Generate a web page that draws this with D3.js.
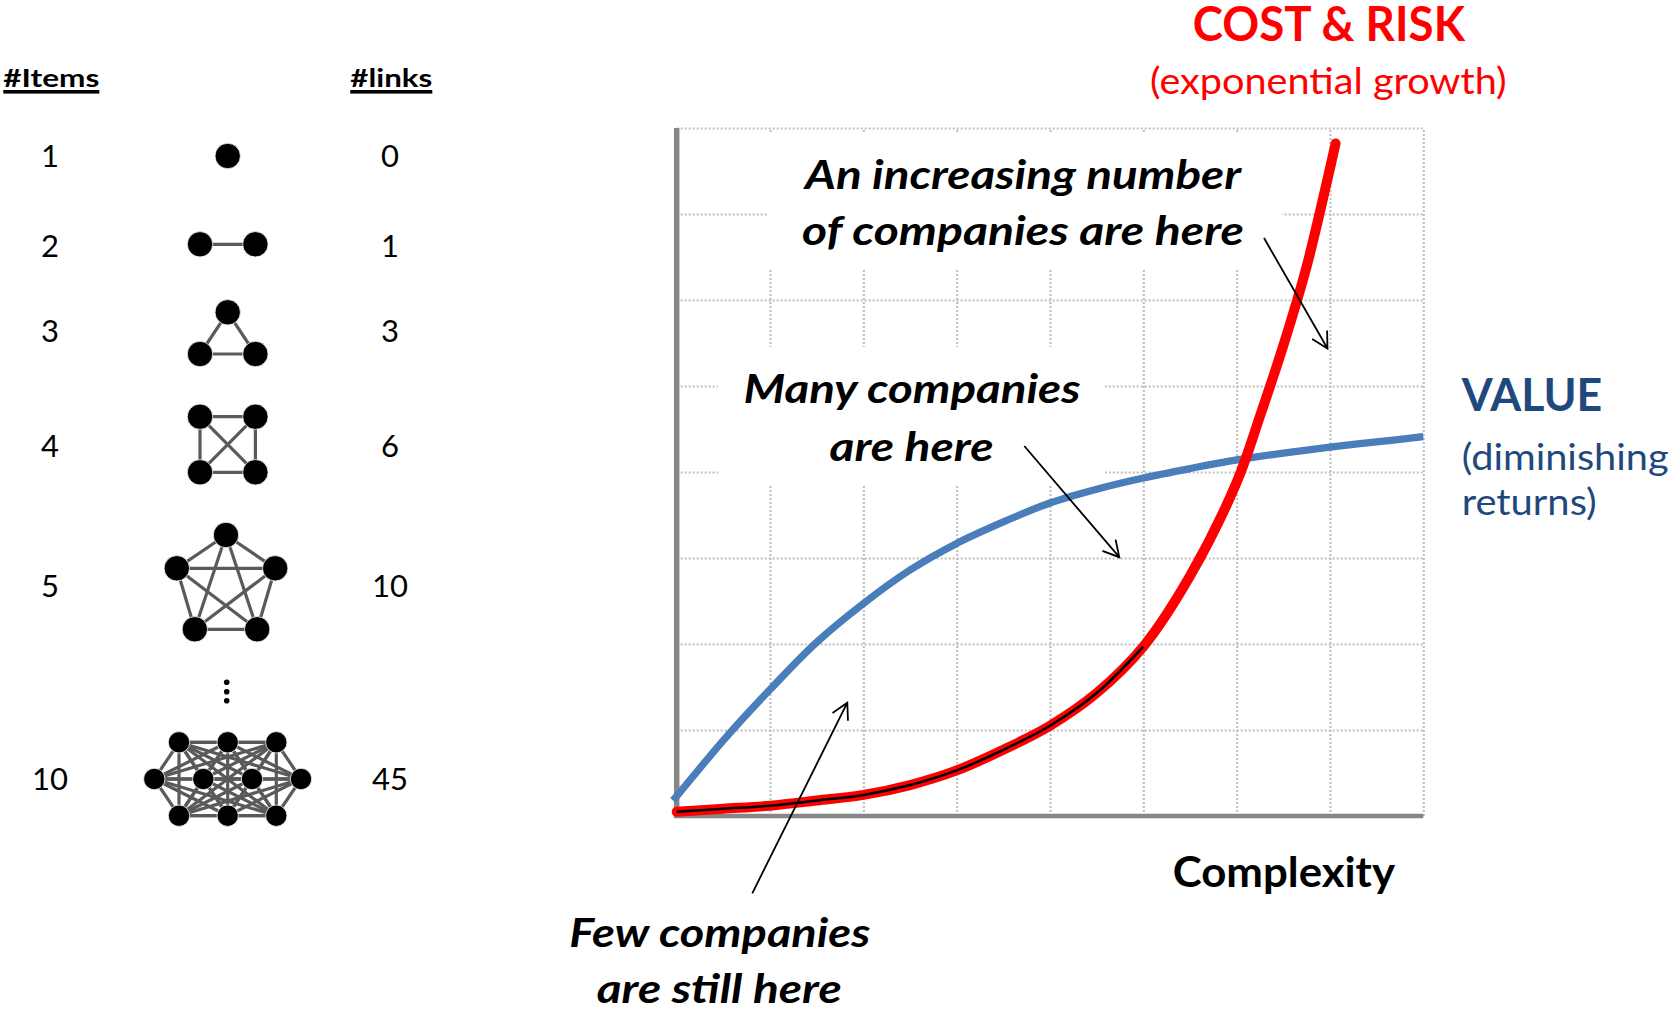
<!DOCTYPE html>
<html><head><meta charset="utf-8">
<script src="https://cdn.jsdelivr.net/npm/d3@7"></script>
<style>html,body{margin:0;padding:0;background:#fff;overflow:hidden}svg{display:block}</style>
</head><body>
<svg id="c" width="1673" height="1011"></svg>
<script>
// ---------------- data ----------------
const items = [1, 2, 3, 4, 5, 10];
const links = [0, 1, 3, 6, 10, 45];
const gridTicks = [0, 1, 2, 3, 4, 5, 6, 7, 8];
const valueX = [-0.04, 0, 0.5, 1, 1.5, 2, 2.5, 3, 3.5, 4, 4.5, 5, 5.5, 6, 6.5, 7, 7.5, 8];
const valueY = [0.18, 0.23, 0.88, 1.47, 2.02, 2.47, 2.86, 3.17, 3.42, 3.64, 3.80, 3.93, 4.04, 4.14, 4.22, 4.29, 4.35, 4.41];
const costX = [0, 0.5, 1, 1.5, 2, 2.5, 3, 3.5, 4, 4.5, 5, 5.5, 6, 6.25, 6.5, 6.75, 7, 7.06];
const costY = [0.05, 0.085, 0.12, 0.18, 0.245, 0.36, 0.53, 0.77, 1.05, 1.43, 1.97, 2.79, 3.88, 4.65, 5.47, 6.39, 7.53, 7.82];
const headerItems = "#Items";
const headerLinks = "#links";

// ---------------- layout ----------------
const svg = d3.select("#c");
const FONT = "Lato, 'Open Sans', 'Noto Sans', sans-serif";
const x = d3.scaleLinear().domain([0, 8]).range([676.7, 1423.3]);
const y = d3.scaleLinear().domain([0, 8]).range([816, 128]);

function label(t, px, py, size, weight, style, color, anchor, width) {
  const el = svg.append("text").attr("x", px).attr("y", py)
    .attr("font-family", FONT).attr("font-size", size)
    .attr("font-weight", weight).attr("font-style", style)
    .attr("fill", color).attr("text-anchor", anchor).text(t);
  if (width) el.attr("textLength", width).attr("lengthAdjust", "spacingAndGlyphs");
  return el;
}

// ---- left panel ----
label(headerItems, 3.3, 86.7, 25.5, 700, "normal", "#000", "start", 96);
label(headerLinks, 350.3, 86.7, 25.5, 700, "normal", "#000", "start", 82);
svg.append("rect").attr("x", 3.3).attr("y", 90).attr("width", 96).attr("height", 3.6).attr("fill", "#000");
svg.append("rect").attr("x", 350.3).attr("y", 90).attr("width", 82).attr("height", 3.6).attr("fill", "#000");

const rowBaselines = [167, 257, 342, 457, 597, 790];
items.forEach((v, i) => label(String(v), 50, rowBaselines[i], 31, 400, "normal", "#000", "middle"));
links.forEach((v, i) => label(String(v), 390, rowBaselines[i], 31, 400, "normal", "#000", "middle"));

// icon node layouts (offsets from icon centre)
const iconLayout = [
  {cx: 227.7, cy: 156,   r: 12.7, nodes: [[0, 0]]},
  {cx: 227.7, cy: 244.3, r: 12.7, nodes: [[-27.7, 0], [27.7, 0]]},
  {cx: 227.7, cy: 333,   r: 12.7, nodes: [[0, -20.7], [-27.7, 21], [27.7, 21]]},
  {cx: 227.7, cy: 444.5, r: 12.7, nodes: [[-27.7, -27.8], [27.7, -27.8], [-27.7, 27.8], [27.7, 27.8]]},
  {cx: 226,   cy: 587,   r: 12.7, nodes: [[0, -52], [-49.2, -18.7], [49.2, -18.7], [-31.2, 42.3], [31.2, 42.3]]},
  {cx: 227.7, cy: 779,   r: 10.7, nodes: [[-48.7, -36.7], [0, -36.7], [48.6, -36.7],
                                          [-73.4, 0], [-24.4, 0], [24.3, 0], [73.3, 0],
                                          [-48.7, 36.7], [0, 36.7], [48.6, 36.7]]}
];
iconLayout.forEach((ic, k) => {
  const g = svg.append("g").attr("transform", `translate(${ic.cx},${ic.cy})`);
  const n = items[k];
  const pts = ic.nodes.slice(0, n);
  const pairs = d3.cross(d3.range(n), d3.range(n)).filter(([a, b]) => a < b);
  g.selectAll("line").data(pairs).join("line")
    .attr("x1", d => pts[d[0]][0]).attr("y1", d => pts[d[0]][1])
    .attr("x2", d => pts[d[1]][0]).attr("y2", d => pts[d[1]][1])
    .attr("stroke", "#5a5a5a").attr("stroke-width", 3.2);
  g.selectAll("circle").data(pts).join("circle")
    .attr("cx", d => d[0]).attr("cy", d => d[1]).attr("r", ic.r)
    .attr("fill", "#000").attr("stroke", "#fff").attr("stroke-width", 0.8);
});
// vertical ellipsis
[682.3, 691.7, 700.7].forEach(cy => svg.append("circle").attr("cx", 226.7).attr("cy", cy).attr("r", 2.8).attr("fill", "#000"));

// ---- chart grid ----
const plotH = y(0) - y(8);
const plotW = x(8) - x(0);
const gx = svg.append("g").attr("transform", `translate(0,${y(0)})`)
  .call(d3.axisBottom(x).tickValues(gridTicks.slice(1)).tickSize(-plotH).tickFormat(""));
gx.select(".domain").remove();
const gy = svg.append("g").attr("transform", `translate(${x(0)},0)`)
  .call(d3.axisLeft(y).tickValues(gridTicks.slice(1)).tickSize(-plotW).tickFormat(""));
gy.select(".domain").remove();
svg.selectAll(".tick line").attr("stroke", "#bdbdbd").attr("stroke-width", 2).attr("stroke-dasharray", "2,2");

// white boxes behind annotation text
const boxes = [
  {x0: 767, y0: 133, x1: 1282, y1: 270},
  {x0: 718, y0: 347, x1: 1105, y1: 485}
];
boxes.forEach(b => svg.append("rect").attr("x", b.x0).attr("y", b.y0)
  .attr("width", b.x1 - b.x0).attr("height", b.y1 - b.y0).attr("fill", "#fff"));

// axes
svg.append("line").attr("x1", x(0)).attr("x2", x(0)).attr("y1", y(8)).attr("y2", y(0) + 2)
  .attr("stroke", "#868686").attr("stroke-width", 5.5);
svg.append("line").attr("x1", x(0) - 2.5).attr("x2", x(8)).attr("y1", y(0)).attr("y2", y(0))
  .attr("stroke", "#868686").attr("stroke-width", 4.5);

// ---- curves ----
const valueData = valueX.map((v, i) => [v, valueY[i]]);
const costData = costX.map((v, i) => [v, costY[i]]);
const line = d3.line().x(d => x(d[0])).y(d => y(d[1])).curve(d3.curveCatmullRom.alpha(0.5));

svg.append("path").attr("d", line(valueData)).attr("fill", "none")
  .attr("stroke", "#4a7ebb").attr("stroke-width", 7.3).attr("stroke-linejoin", "round");
svg.append("path").attr("d", line(costData)).attr("fill", "none")
  .attr("stroke", "#ff0000").attr("stroke-width", 10).attr("stroke-linecap", "round").attr("stroke-linejoin", "round");
svg.append("path").attr("d", line(costData.filter(d => d[0] <= 5))).attr("fill", "none")
  .attr("stroke", "#000").attr("stroke-width", 2.5);

// ---- annotation text ----
const ital = [
  {t: "An increasing number", cx: 1023, by: 189.3, w: 436},
  {t: "of companies are here", cx: 1023, by: 245, w: 442},
  {t: "Many companies", cx: 912, by: 403.3, w: 337},
  {t: "are here", cx: 911.5, by: 460.7, w: 164},
  {t: "Few companies", cx: 719.7, by: 947.3, w: 301},
  {t: "are still here", cx: 719.2, by: 1003, w: 245}
];
ital.forEach(a => label(a.t, a.cx, a.by, 41, 700, "italic", "#000", "middle", a.w));

label("Complexity", 1172.7, 886.7, 42, 700, "normal", "#000", "start", 222.3);
label("COST & RISK", 1192.7, 41, 48, 700, "normal", "#ff0000", "start", 272.3);
label("(exponential growth)", 1150, 93.6, 37, 400, "normal", "#ff0000", "start", 356.7);
label("VALUE", 1461.7, 411.2, 46.5, 700, "normal", "#1f497d", "start", 140.6);
label("(diminishing", 1461.7, 469.7, 37, 400, "normal", "#1f497d", "start", 207);
label("returns)", 1461.7, 514.5, 37, 400, "normal", "#1f497d", "start", 135);

// ---- arrows ----
const arrows = [
  {x1: 1264, y1: 238, x2: 1327.5, y2: 348.5},
  {x1: 1024.3, y1: 446, x2: 1119.3, y2: 557.2},
  {x1: 752.3, y1: 893.3, x2: 847.3, y2: 702.7}
];
arrows.forEach(a => {
  const ang = Math.atan2(a.y2 - a.y1, a.x2 - a.x1);
  const L = 18, h = 0.5;
  const w1 = [a.x2 - L * Math.cos(ang - h), a.y2 - L * Math.sin(ang - h)];
  const w2 = [a.x2 - L * Math.cos(ang + h), a.y2 - L * Math.sin(ang + h)];
  const p = d3.path();
  p.moveTo(a.x1, a.y1); p.lineTo(a.x2, a.y2);
  p.moveTo(w1[0], w1[1]); p.lineTo(a.x2, a.y2); p.lineTo(w2[0], w2[1]);
  svg.append("path").attr("d", p.toString()).attr("fill", "none")
    .attr("stroke", "#000").attr("stroke-width", 1.8).attr("stroke-linejoin", "miter");
});
</script>
</body></html>
